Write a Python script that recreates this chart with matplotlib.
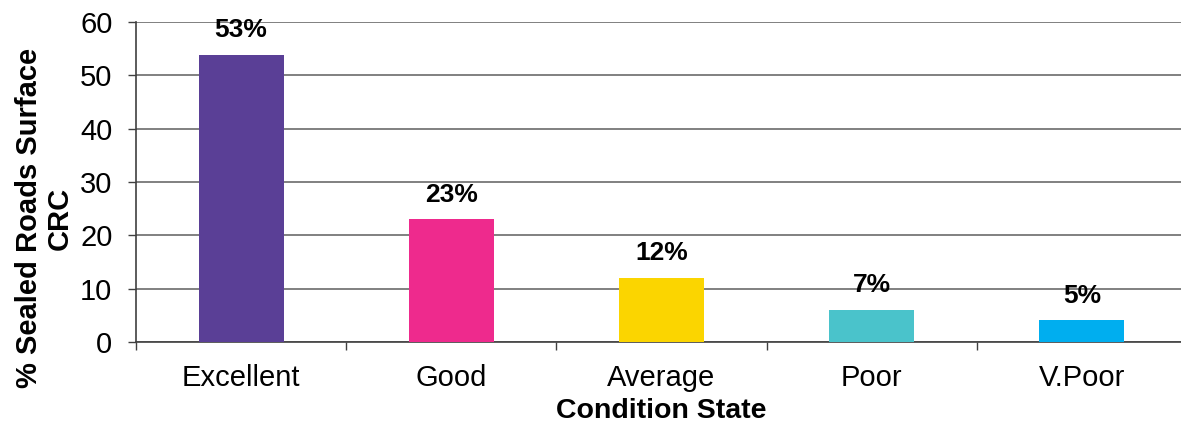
import numpy as np
import matplotlib.pyplot as plt

plt.rcParams['font.family'] = ['Liberation Sans', 'DejaVu Sans']

# condition state survey results
categories = ['Excellent', 'Good', 'Average', 'Poor', 'V.Poor']
pct_values = [53.9, 23.0, 12.0, 6.0, 4.1]
pct_labels = ['53%', '23%', '12%', '7%', '5%']
bar_colors = ['#5a3f96', '#ee2a8d', '#fbd500', '#4ac3cb', '#00aeef']
y_ticks = [0, 10, 20, 30, 40, 50, 60]

fig = plt.figure(figsize=(11.81, 4.28), dpi=100)
ax = fig.add_axes([136 / 1181, 86 / 428, 1051 / 1181, 320 / 428])

x = np.arange(len(categories))
bars = ax.bar(x, pct_values, width=0.405, color=bar_colors, zorder=3)

for b, lab in zip(bars, pct_labels):
    ax.annotate(lab, (b.get_x() + b.get_width() / 2, b.get_height()),
                xytext=(0, 9), textcoords='offset points',
                ha='center', va='bottom', fontsize=19, fontweight='bold')

ax.set_xlim(-0.5, len(categories) - 0.5)
ax.set_ylim(0, 60)
ax.set_yticks(y_ticks)
ax.yaxis.grid(True, color='#808080', linewidth=1.4, zorder=0)

ax.set_xticks(x)
ax.set_xticklabels(categories, fontsize=21)
ax.set_xticks(np.arange(len(categories) + 1) - 0.5, minor=True)
ax.tick_params(axis='x', which='major', length=0, pad=16)
ax.tick_params(axis='x', which='minor', length=6, width=1, color='#404040')
ax.tick_params(axis='y', length=6, width=1, color='#404040', pad=11, labelsize=21)

for s in ['top', 'right']:
    ax.spines[s].set_visible(False)
ax.spines['left'].set_color('#404040')
ax.spines['bottom'].set_color('#404040')
ax.spines['left'].set_linewidth(1.2)
ax.spines['bottom'].set_linewidth(1.2)

ax.set_xlabel('Condition State', fontsize=20.5, fontweight='bold', labelpad=4)
ax.set_ylabel('% Sealed Roads Surface\nCRC', fontsize=21, fontweight='bold',
              linespacing=1.15)
ax.yaxis.set_label_coords(-0.059, 0.3875)

fig.savefig('out.png', dpi=100)
